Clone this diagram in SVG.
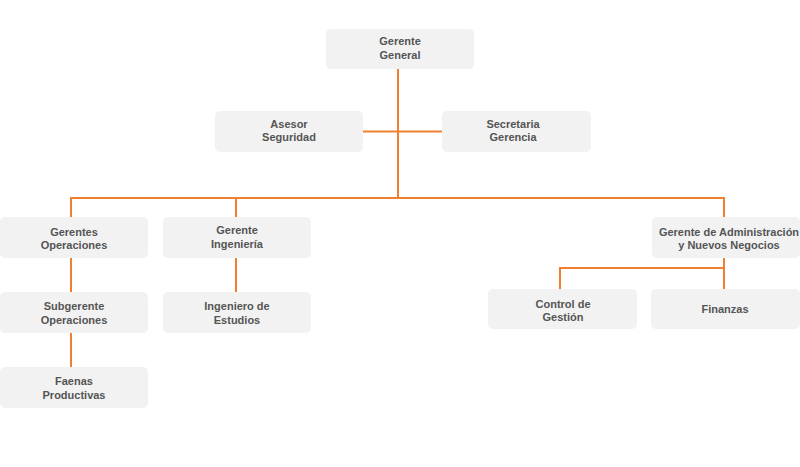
<svg xmlns="http://www.w3.org/2000/svg" width="800" height="467" viewBox="0 0 800 467">
<style>
.box{fill:#f2f2f2;}
.t{font-family:"Liberation Sans",Arial,sans-serif;font-size:11px;font-weight:bold;fill:#555555;text-anchor:middle;}
.c{stroke:#f08030;stroke-width:2;fill:none;}
</style>
<rect width="800" height="467" fill="#ffffff"/>
<g id="connectors">
<path class="c" d="M398,69 V198"/>
<path class="c" d="M363,131.5 H442"/>
<path class="c" d="M71,198 H724"/>
<path class="c" d="M71,197 V217"/>
<path class="c" d="M236,197 V217"/>
<path class="c" d="M724,197 V217"/>
<path class="c" d="M71,258 V292"/>
<path class="c" d="M71,333 V367"/>
<path class="c" d="M236,258 V292"/>
<path class="c" d="M724,258 V289"/>
<path class="c" d="M560,289 V268 H724"/>
</g>
<g id="gerente-general"><rect class="box" x="326" y="29" width="148" height="40" rx="5"/><text class="t" x="400" y="45">Gerente</text><text class="t" x="400" y="59">General</text></g>
<g id="asesor-seguridad"><rect class="box" x="215" y="111" width="148" height="41" rx="5"/><text class="t" x="289" y="128">Asesor</text><text class="t" x="289" y="141">Seguridad</text></g>
<g id="secretaria-gerencia"><rect class="box" x="442" y="111" width="149" height="41" rx="5"/><text class="t" x="513" y="128">Secretaria</text><text class="t" x="513" y="141">Gerencia</text></g>
<g id="gerentes-operaciones"><rect class="box" x="0" y="217" width="148" height="41" rx="5"/><text class="t" x="74" y="236">Gerentes</text><text class="t" x="74" y="249">Operaciones</text></g>
<g id="gerente-ingenieria"><rect class="box" x="163" y="217" width="148" height="41" rx="5"/><text class="t" x="237" y="234">Gerente</text><text class="t" x="237" y="248">Ingeniería</text></g>
<g id="gerente-administracion"><rect class="box" x="652" y="217" width="148" height="41" rx="5"/><text class="t" x="729" y="236">Gerente de Administración</text><text class="t" x="729" y="249">y Nuevos Negocios</text></g>
<g id="subgerente-operaciones"><rect class="box" x="0" y="292" width="148" height="41" rx="5"/><text class="t" x="74" y="310">Subgerente</text><text class="t" x="74" y="324">Operaciones</text></g>
<g id="ingeniero-estudios"><rect class="box" x="163" y="292" width="148" height="41" rx="5"/><text class="t" x="237" y="310">Ingeniero de</text><text class="t" x="237" y="324">Estudios</text></g>
<g id="faenas-productivas"><rect class="box" x="0" y="367" width="148" height="41" rx="5"/><text class="t" x="74" y="385">Faenas</text><text class="t" x="74" y="399">Productivas</text></g>
<g id="control-gestion"><rect class="box" x="488" y="289" width="149" height="40" rx="5"/><text class="t" x="563" y="308">Control de</text><text class="t" x="563" y="321">Gestión</text></g>
<g id="finanzas"><rect class="box" x="651" y="289" width="149" height="40" rx="5"/><text class="t" x="725" y="313">Finanzas</text></g>
</svg>
